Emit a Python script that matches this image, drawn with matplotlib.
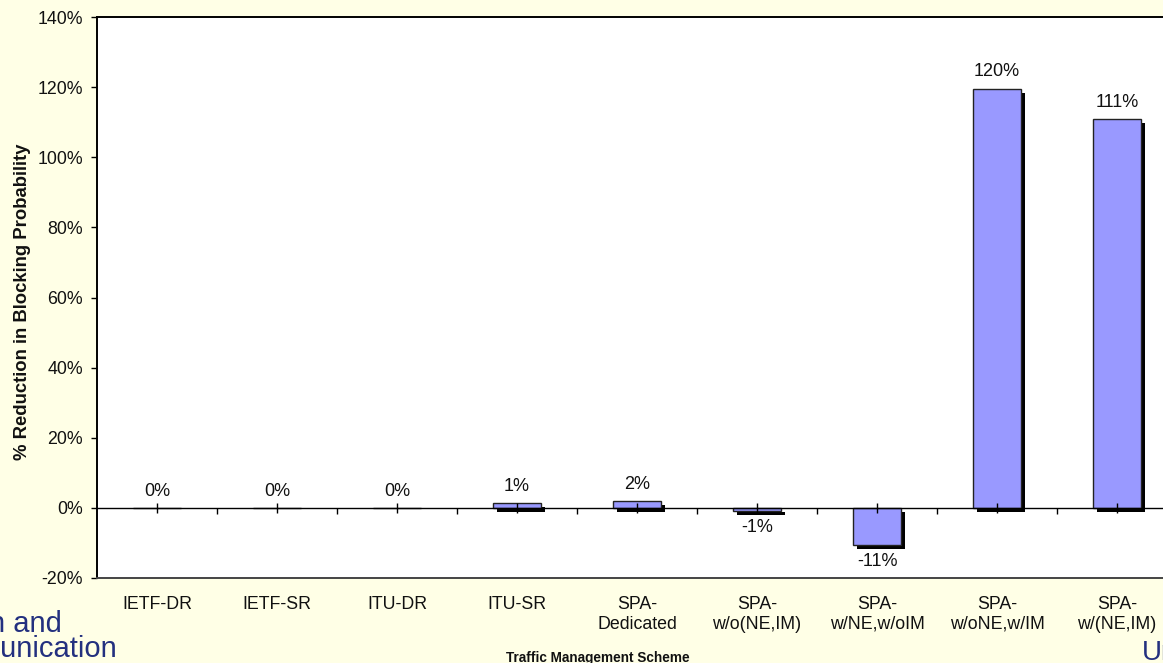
import matplotlib
matplotlib.use("Agg")
import matplotlib.pyplot as plt
import matplotlib.patheffects as pe
from matplotlib.markers import TICKDOWN

plt.rcParams['font.family'] = ['Liberation Sans', 'DejaVu Sans']

schemes = ["IETF-DR", "IETF-SR", "ITU-DR", "ITU-SR", "SPA-\nDedicated",
           "SPA-\nw/o(NE,IM)", "SPA-\nw/NE,w/oIM", "SPA-\nw/oNE,w/IM", "SPA-\nw/(NE,IM)"]
reduction = [0.0, 0.0, 0.0, 1.4, 2.0, -0.8, -10.6, 119.6, 110.9]
y_ticks = [-20, 0, 20, 40, 60, 80, 100, 120, 140]

bg = "#FFFFE6"
bar_color = "#9999FF"
W, H = 1163, 663

fig = plt.figure(figsize=(W / 100, H / 100), dpi=100, facecolor=bg)
ax = fig.add_axes([97 / W, 1 - 578 / H, 1080 / W, (578 - 17) / H])
ax.set_facecolor("white")

x = list(range(len(schemes)))
bars = ax.bar(x, reduction, width=0.4, color=bar_color, edgecolor="#222222",
              linewidth=1.0, zorder=3)
for b in bars:
    b.set_path_effects([pe.SimplePatchShadow(offset=(3, -3), shadow_rgbFace="black", alpha=1.0),
                        pe.Normal()])

# value labels
for xi, v in zip(x, reduction):
    if v >= 0:
        ax.annotate(f"{v:.0f}%", (xi, v), xytext=(0, 6), textcoords="offset points",
                    ha="center", va="bottom", fontsize=13, color="#111111")
    else:
        ax.annotate(f"{v:.0f}%", (xi, v), xytext=(0, -6), textcoords="offset points",
                    ha="center", va="top", fontsize=13, color="#111111")

ax.set_xlim(-0.5, len(schemes) - 0.5)
ax.set_ylim(-20, 140)
ax.set_yticks(y_ticks)
ax.set_yticklabels([f"{t}%" for t in y_ticks], fontsize=12.8, color="#111111")
ax.tick_params(axis="y", direction="out", length=4, width=1, pad=6, color="black")
ax.set_xticks(x)
ax.set_xticklabels(schemes, fontsize=12.8, color="#111111", linespacing=1.22)
ax.tick_params(axis="x", length=0, pad=13)

# zero axis line with its tick marks
ax.axhline(0, color="black", linewidth=1.0, zorder=4)
ax.plot(x, [0] * len(x), linestyle="none", marker="|", markersize=6.5,
        markeredgewidth=1.0, color="black", zorder=4)
bounds = [i + 0.5 for i in x]
ax.plot(bounds, [0] * len(bounds), linestyle="none", marker=TICKDOWN, markersize=4,
        markeredgewidth=1.0, color="black", zorder=4, clip_on=False)

for side in ["left", "top"]:
    ax.spines[side].set_color("black")
    ax.spines[side].set_linewidth(1.4)
ax.spines["bottom"].set_color("#444444")
ax.spines["bottom"].set_linewidth(1.4)
ax.spines["right"].set_visible(False)

ax.set_ylabel("% Reduction in Blocking Probability", fontsize=13.3, fontweight="bold",
              color="#111111")
ax.yaxis.set_label_coords(-66 / 1080, (578 - 302) / (578 - 17))
fig.text(598 / W, 1 - 662 / H, "Traffic Management Scheme", ha="center", va="baseline",
         fontsize=9.8, fontweight="bold", color="#111111")

# slide background lettering
navy = "#23307F"
fig.text(62 / W, 1 - 632 / H, "n and", ha="right", va="baseline",
         fontsize=21, color=navy)
fig.text(117 / W, 1 - 657 / H, "nunication", ha="right", va="baseline",
         fontsize=21, color=navy)
fig.text(1142 / W, 1 - 660 / H, "Un", ha="left", va="baseline",
         fontsize=20, color=navy)

fig.savefig("out.png", dpi=100, facecolor=bg)
